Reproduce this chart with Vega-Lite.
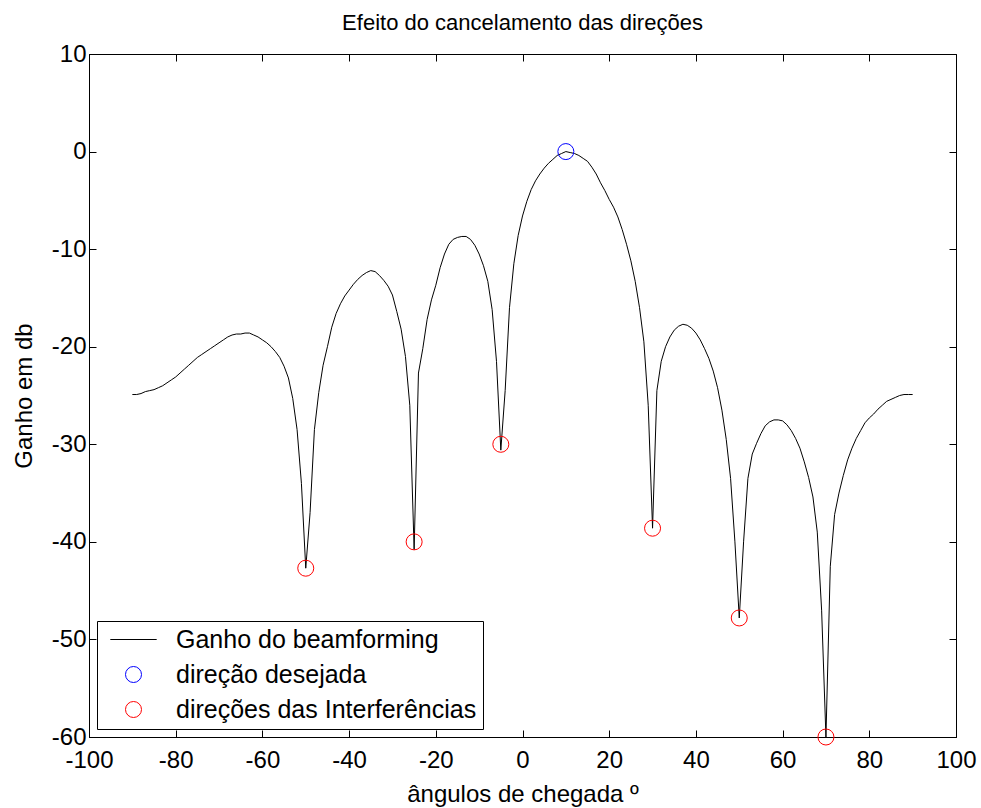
{
  "$schema": "https://vega.github.io/schema/vega-lite/v6.json",
  "width": 867,
  "height": 683,
  "autosize": {"type": "none"},
  "padding": {"left": 89, "top": 54, "right": 25, "bottom": 71},
  "background": "white",
  "title": {"text": "Efeito do cancelamento das direções", "fontSize": 22, "fontWeight": "normal", "font": "Liberation Sans", "color": "black", "offset": 7, "anchor": "middle"},
  "datasets": {
    "curve": [
      {"a": -90, "g": -24.9}, {"a": -89, "g": -24.9}, {"a": -88, "g": -24.8}, {"a": -87, "g": -24.6}, {"a": -86, "g": -24.5},
      {"a": -85, "g": -24.4}, {"a": -84, "g": -24.2}, {"a": -83, "g": -24.0}, {"a": -82, "g": -23.7}, {"a": -81, "g": -23.4},
      {"a": -80, "g": -23.1}, {"a": -79, "g": -22.7}, {"a": -78, "g": -22.3}, {"a": -77, "g": -21.9}, {"a": -76, "g": -21.5},
      {"a": -75, "g": -21.1}, {"a": -74, "g": -20.8}, {"a": -73, "g": -20.5}, {"a": -72, "g": -20.2}, {"a": -71, "g": -19.9},
      {"a": -70, "g": -19.6}, {"a": -69, "g": -19.3}, {"a": -68, "g": -19.0}, {"a": -67, "g": -18.8}, {"a": -66, "g": -18.7},
      {"a": -65, "g": -18.7}, {"a": -64, "g": -18.6}, {"a": -63, "g": -18.6}, {"a": -62, "g": -18.8}, {"a": -61, "g": -19.0},
      {"a": -60, "g": -19.3}, {"a": -59, "g": -19.6}, {"a": -58, "g": -20.0}, {"a": -57, "g": -20.5}, {"a": -56, "g": -21.1},
      {"a": -55, "g": -22.0}, {"a": -54, "g": -23.2}, {"a": -53, "g": -25.3}, {"a": -52, "g": -28.5}, {"a": -51, "g": -34.0},
      {"a": -50, "g": -42.7}, {"a": -49, "g": -37.0}, {"a": -48, "g": -28.5}, {"a": -47, "g": -24.7}, {"a": -46, "g": -21.9},
      {"a": -45, "g": -20.0}, {"a": -44, "g": -18.0}, {"a": -43, "g": -16.6}, {"a": -42, "g": -15.6}, {"a": -41, "g": -14.8},
      {"a": -40, "g": -14.2}, {"a": -39, "g": -13.6}, {"a": -38, "g": -13.1}, {"a": -37, "g": -12.7}, {"a": -36, "g": -12.4},
      {"a": -35, "g": -12.2}, {"a": -34, "g": -12.3}, {"a": -33, "g": -12.7}, {"a": -32, "g": -13.2}, {"a": -31, "g": -13.8},
      {"a": -30, "g": -14.7}, {"a": -29, "g": -16.4}, {"a": -28, "g": -18.2}, {"a": -27, "g": -21.0}, {"a": -26, "g": -26.0},
      {"a": -25, "g": -40.8}, {"a": -24, "g": -22.7}, {"a": -23, "g": -20.2}, {"a": -22, "g": -17.2}, {"a": -21, "g": -15.2},
      {"a": -20, "g": -13.7}, {"a": -19, "g": -11.9}, {"a": -18, "g": -10.5}, {"a": -17, "g": -9.5}, {"a": -16, "g": -9.0},
      {"a": -15, "g": -8.8}, {"a": -14, "g": -8.7}, {"a": -13, "g": -8.7}, {"a": -12, "g": -9.0}, {"a": -11, "g": -9.6},
      {"a": -10, "g": -10.5}, {"a": -9, "g": -11.7}, {"a": -8, "g": -13.3}, {"a": -7, "g": -16.2}, {"a": -6, "g": -21.5},
      {"a": -5, "g": -30.6}, {"a": -4, "g": -24.5}, {"a": -3, "g": -16.0}, {"a": -2, "g": -11.5}, {"a": -1, "g": -8.6},
      {"a": 0, "g": -6.6}, {"a": 1, "g": -5.1}, {"a": 2, "g": -3.9}, {"a": 3, "g": -3.0}, {"a": 4, "g": -2.3},
      {"a": 5, "g": -1.7}, {"a": 6, "g": -1.2}, {"a": 7, "g": -0.8}, {"a": 8, "g": -0.4}, {"a": 9, "g": -0.2},
      {"a": 10, "g": 0.0}, {"a": 11, "g": -0.1}, {"a": 12, "g": -0.2}, {"a": 13, "g": -0.4}, {"a": 14, "g": -0.7},
      {"a": 15, "g": -1.0}, {"a": 16, "g": -1.6}, {"a": 17, "g": -2.3}, {"a": 18, "g": -3.2}, {"a": 19, "g": -4.0},
      {"a": 20, "g": -4.9}, {"a": 21, "g": -5.7}, {"a": 22, "g": -6.7}, {"a": 23, "g": -8.0}, {"a": 24, "g": -9.5},
      {"a": 25, "g": -11.2}, {"a": 26, "g": -13.3}, {"a": 27, "g": -16.0}, {"a": 28, "g": -19.5}, {"a": 29, "g": -26.0},
      {"a": 30, "g": -38.6}, {"a": 31, "g": -24.5}, {"a": 32, "g": -21.5}, {"a": 33, "g": -20.0}, {"a": 34, "g": -19.0},
      {"a": 35, "g": -18.3}, {"a": 36, "g": -17.9}, {"a": 37, "g": -17.7}, {"a": 38, "g": -17.8}, {"a": 39, "g": -18.1},
      {"a": 40, "g": -18.6}, {"a": 41, "g": -19.3}, {"a": 42, "g": -20.2}, {"a": 43, "g": -21.2}, {"a": 44, "g": -22.5},
      {"a": 45, "g": -24.2}, {"a": 46, "g": -26.5}, {"a": 47, "g": -29.5}, {"a": 48, "g": -33.5}, {"a": 49, "g": -40.0},
      {"a": 50, "g": -47.8}, {"a": 51, "g": -40.0}, {"a": 52, "g": -33.5}, {"a": 53, "g": -31.0}, {"a": 54, "g": -29.9},
      {"a": 55, "g": -28.9}, {"a": 56, "g": -28.1}, {"a": 57, "g": -27.7}, {"a": 58, "g": -27.5}, {"a": 59, "g": -27.5},
      {"a": 60, "g": -27.6}, {"a": 61, "g": -28.0}, {"a": 62, "g": -28.6}, {"a": 63, "g": -29.4}, {"a": 64, "g": -30.4},
      {"a": 65, "g": -31.8}, {"a": 66, "g": -33.4}, {"a": 67, "g": -35.4}, {"a": 68, "g": -39.0}, {"a": 69, "g": -47.0},
      {"a": 70, "g": -60.0}, {"a": 71, "g": -42.5}, {"a": 72, "g": -37.2}, {"a": 73, "g": -35.0}, {"a": 74, "g": -33.2},
      {"a": 75, "g": -31.6}, {"a": 76, "g": -30.4}, {"a": 77, "g": -29.4}, {"a": 78, "g": -28.6}, {"a": 79, "g": -27.8},
      {"a": 80, "g": -27.3}, {"a": 81, "g": -26.9}, {"a": 82, "g": -26.4}, {"a": 83, "g": -26.0}, {"a": 84, "g": -25.6},
      {"a": 85, "g": -25.4}, {"a": 86, "g": -25.2}, {"a": 87, "g": -25.0}, {"a": 88, "g": -24.9}, {"a": 89, "g": -24.9},
      {"a": 90, "g": -24.9}
    ],
    "marks": [
      {"a": 10, "g": 0.0, "serie": "direção desejada"},
      {"a": -50, "g": -42.7, "serie": "direções das Interferências"},
      {"a": -25, "g": -40.0, "serie": "direções das Interferências"},
      {"a": -5, "g": -30.0, "serie": "direções das Interferências"},
      {"a": 30, "g": -38.6, "serie": "direções das Interferências"},
      {"a": 50, "g": -47.8, "serie": "direções das Interferências"},
      {"a": 70, "g": -60.0, "serie": "direções das Interferências"}
    ]
  },
  "layer": [
    {
      "data": {"name": "curve"},
      "mark": {"type": "line", "color": "black", "strokeWidth": 1},
      "encoding": {
        "x": {"field": "a", "type": "quantitative", "scale": {"domain": [-100, 100], "nice": false, "zero": false},
              "axis": {"orient": "bottom", "values": [-100, -80, -60, -40, -20, 0, 20, 40, 60, 80, 100], "labelExpr": "datum.value + ''", "title": "ângulos de chegada º", "labelPadding": 18, "titlePadding": 10, "labelFlush": false, "labelOverlap": false}},
        "y": {"field": "g", "type": "quantitative", "scale": {"domain": [-60, 10], "nice": false, "zero": false},
              "axis": {"orient": "left", "values": [-60, -50, -40, -30, -20, -10, 0, 10], "labelExpr": "datum.value + ''", "title": "Ganho em db", "labelPadding": 10, "titlePadding": 15, "labelOverlap": false}}
      }
    },
    {
      "data": {"name": "marks"},
      "mark": {"type": "point", "filled": false, "size": 256, "strokeWidth": 1, "opacity": 1},
      "encoding": {
        "x": {"field": "a", "type": "quantitative", "axis": {"orient": "top", "values": [-100, -80, -60, -40, -20, 0, 20, 40, 60, 80, 100], "labels": false, "title": null, "domain": false}},
        "y": {"field": "g", "type": "quantitative", "axis": {"orient": "right", "values": [-60, -50, -40, -30, -20, -10, 0, 10], "labels": false, "title": null, "domain": false}},
        "color": {"field": "serie", "type": "nominal",
          "scale": {"domain": ["Ganho do beamforming", "direção desejada", "direções das Interferências"], "range": ["#000000", "#0000ff", "#ff0000"]},
          "legend": {
            "title": null, "orient": "bottom-left", "offset": 8,
            "strokeColor": "black", "fillColor": "white", "padding": 6,
            "labelFontSize": 25, "labelFont": "Liberation Sans", "labelColor": "black", "labelLimit": 600,
            "symbolSize": 256, "symbolStrokeWidth": 1, "labelOffset": 30, "rowPadding": 9, "symbolOffset": 18
          }},
        "shape": {"field": "serie", "type": "nominal",
          "scale": {"domain": ["Ganho do beamforming", "direção desejada", "direções das Interferências"], "range": ["M-2.9,0H2.9", "circle", "circle"]},
          "legend": {
            "title": null, "orient": "bottom-left", "offset": 8,
            "strokeColor": "black", "fillColor": "white", "padding": 6,
            "labelFontSize": 25, "labelFont": "Liberation Sans", "labelColor": "black", "labelLimit": 600,
            "symbolSize": 256, "symbolStrokeWidth": 1, "labelOffset": 30, "rowPadding": 9, "symbolOffset": 18
          }}
      }
    }
  ],
  "resolve": {"axis": {"x": "independent", "y": "independent"}},
  "config": {
    "font": "Liberation Sans",
    "view": {"stroke": "black", "strokeWidth": 1},
    "axis": {"grid": false, "domainColor": "black", "domainWidth": 1, "tickColor": "black", "tickWidth": 1, "tickSize": -7,
             "labelColor": "black", "titleColor": "black", "labelFontSize": 24, "titleFontSize": 24, "titleFontWeight": "normal",
             "labelFont": "Liberation Sans", "titleFont": "Liberation Sans"}
  }
}
